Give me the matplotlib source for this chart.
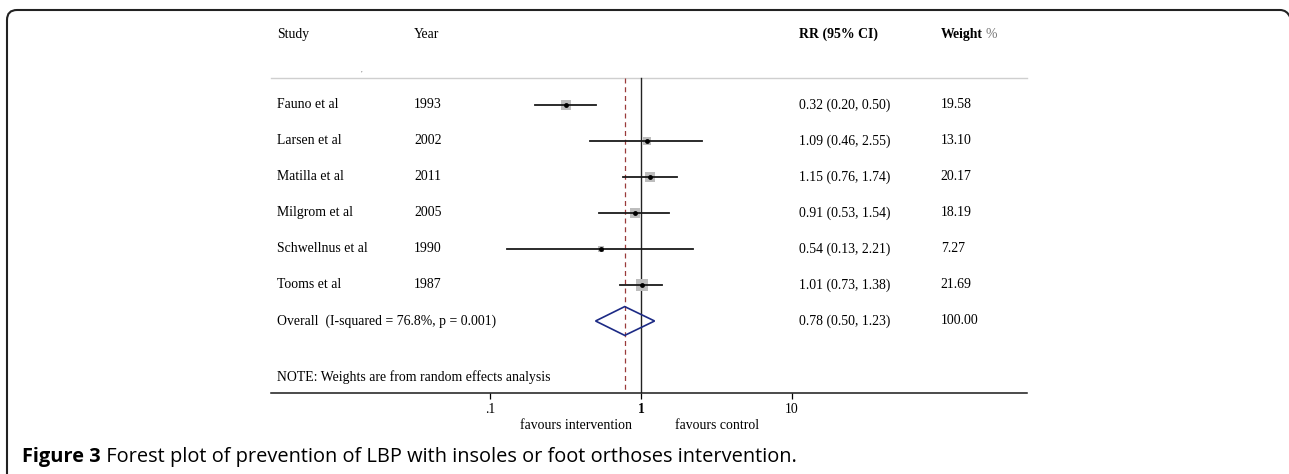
import matplotlib
matplotlib.use("Agg")
import matplotlib.pyplot as plt
from matplotlib.patches import Polygon, PathPatch
from matplotlib.path import Path
import matplotlib.transforms as mtransforms
import numpy as np

# ---- data ----
studies = ["Fauno et al", "Larsen et al", "Matilla et al", "Milgrom et al", "Schwellnus et al", "Tooms et al"]
years = ["1993", "2002", "2011", "2005", "1990", "1987"]
rr = [0.32, 1.09, 1.15, 0.91, 0.54, 1.01]
lo = [0.20, 0.46, 0.76, 0.53, 0.13, 0.73]
hi = [0.50, 2.55, 1.74, 1.54, 2.21, 1.38]
weights = [19.58, 13.10, 20.17, 18.19, 7.27, 21.69]
overall_rr, overall_lo, overall_hi = 0.78, 0.50, 1.23
overall_label = "Overall  (I-squared = 76.8%, p = 0.001)"
note = "NOTE: Weights are from random effects analysis"
xticks = [0.1, 1, 10]
xticklabels = [".1", "1", "10"]
caption_bold = "Figure 3"
caption_rest = " Forest plot of prevention of LBP with insoles or foot orthoses intervention."

W, H = 1289, 474
fig = plt.figure(figsize=(W / 100, H / 100), dpi=100)
fig.patch.set_facecolor("white")

serif = "Liberation Serif"
fs = 9.9

# axes pixel placement
ax_left_px, ax_right_px = 271, 1027
ax_top_px, ax_bot_px = 20, 393
ax = fig.add_axes([ax_left_px / W, 1 - ax_bot_px / H,
                   (ax_right_px - ax_left_px) / W, (ax_bot_px - ax_top_px) / H])
x_one_px, decade_px = 641, 151
ax.set_xscale("log")
ax.set_xlim(10 ** ((ax_left_px - x_one_px) / decade_px), 10 ** ((ax_right_px - x_one_px) / decade_px))
ax.set_ylim(8.0, -2.36)
for s in ["top", "left", "right"]:
    ax.spines[s].set_visible(False)
ax.spines["bottom"].set_linewidth(1.1)
ax.spines["bottom"].set_color("#1a1a1a")
ax.set_yticks([])
ax.set_xticks(xticks)
ax.set_xticklabels(xticklabels, fontfamily=serif, fontsize=fs)
ax.xaxis.set_minor_locator(matplotlib.ticker.NullLocator())
ax.tick_params(axis="x", direction="out", length=4, width=0.9, pad=3)
for lab in ax.get_xticklabels():
    if lab.get_text() == "1":
        lab.set_fontweight("bold")

tr = mtransforms.blended_transform_factory(ax.transAxes, ax.transData)

# separator
ax.plot([0, 1], [-0.75, -0.75], transform=tr, color="#cfcfcf", lw=1.0, clip_on=False)
# reference lines
ax.plot([1, 1], [-0.75, 8.0], color="#222222", lw=1.0)
ax.plot([overall_rr, overall_rr], [-0.75, 8.0], color="#9a3a3a", lw=0.9, ls=(0, (4, 3)))

ypos = np.arange(len(studies))
for i in range(len(studies)):
    side_px = 2.4 * np.sqrt(weights[i])
    ax.plot([rr[i]], [ypos[i]], marker="s", ms=side_px * 0.72, color="#bdbdbd", mew=0, ls="none", zorder=2)
    ax.plot([lo[i], hi[i]], [ypos[i], ypos[i]], color="#1a1a1a", lw=1.3, zorder=3)
    ax.plot([rr[i]], [ypos[i]], marker="o", ms=3.5, color="black", mew=0, ls="none", zorder=4)

yo = len(studies)
diamond = Polygon([(overall_lo, yo), (overall_rr, yo - 0.4), (overall_hi, yo), (overall_rr, yo + 0.4)],
                  closed=True, fill=False, edgecolor="#1c2a85", lw=1.2, zorder=3)
ax.add_patch(diamond)

# text columns
x_study, x_year, x_rr, x_w = 0.0079, 0.189, 0.698, 0.886
ax.text(x_study, -1.97, "Study", transform=tr, fontfamily=serif, fontsize=fs, va="center")
ax.text(x_year, -1.97, "Year", transform=tr, fontfamily=serif, fontsize=fs, va="center")
ax.text(x_rr, -1.97, "RR (95% CI)", transform=tr, fontfamily=serif, fontsize=fs, va="center", fontweight="bold")
t = ax.text(x_w, -1.97, "Weight", transform=tr, fontfamily=serif, fontsize=fs, va="center", fontweight="bold")
fig.canvas.draw()
ext = t.get_window_extent()
ax.text(ext.x1 + 3, -1.97, "%",
        transform=mtransforms.blended_transform_factory(mtransforms.IdentityTransform(), ax.transData),
        fontfamily=serif, fontsize=fs, va="center", color="#777777")
ax.text(0.119, -0.97, ",", transform=tr, fontfamily=serif, fontsize=5, va="center", color="#555555")

for i in range(len(studies)):
    ax.text(x_study, ypos[i], studies[i], transform=tr, fontfamily=serif, fontsize=fs, va="center")
    ax.text(x_year, ypos[i], years[i], transform=tr, fontfamily=serif, fontsize=fs, va="center")
    ax.text(x_rr, ypos[i], f"{rr[i]:.2f} ({lo[i]:.2f}, {hi[i]:.2f})", transform=tr, fontfamily=serif, fontsize=fs, va="center")
    ax.text(x_w, ypos[i], f"{weights[i]:.2f}", transform=tr, fontfamily=serif, fontsize=fs, va="center")

ax.text(x_study, yo, overall_label, transform=tr, fontfamily=serif, fontsize=fs, va="center")
ax.text(x_rr, yo, f"{overall_rr:.2f} ({overall_lo:.2f}, {overall_hi:.2f})", transform=tr, fontfamily=serif, fontsize=fs, va="center")
ax.text(x_w, yo, f"{sum(weights):.2f}", transform=tr, fontfamily=serif, fontsize=fs, va="center")
ax.text(x_study, 7.56, note, transform=tr, fontfamily=serif, fontsize=fs, va="center")

ax.text(0.403, 8.89, "favours intervention", transform=tr, fontfamily=serif, fontsize=fs, va="center", ha="center", clip_on=False)
ax.text(0.5896, 8.89, "favours control", transform=tr, fontfamily=serif, fontsize=fs, va="center", ha="center", clip_on=False)

# frame (display/pixel coordinates, y up)
top = H - 10
verts = [(7, -5), (7, top - 10), (7, top), (17, top), (1280, top), (1287, top), (1290, top - 7)]
codes = [Path.MOVETO, Path.LINETO, Path.CURVE3, Path.CURVE3, Path.LINETO, Path.CURVE3, Path.CURVE3]
frame = PathPatch(Path(verts, codes), transform=None, fill=False, edgecolor="#222222", lw=1.5, clip_on=False)
fig.patches.append(frame)

# caption
sans = "Open Sans"
cap_fs = 14.4
tb = fig.text(22 / W, 1 - 462 / H, caption_bold, fontfamily=sans, fontsize=cap_fs, fontweight="bold", va="baseline")
fig.canvas.draw()
e = tb.get_window_extent()
fig.text((e.x1) / W, 1 - 462 / H, caption_rest, fontfamily=sans, fontsize=cap_fs, va="baseline")

fig.savefig("out.png", dpi=100)
